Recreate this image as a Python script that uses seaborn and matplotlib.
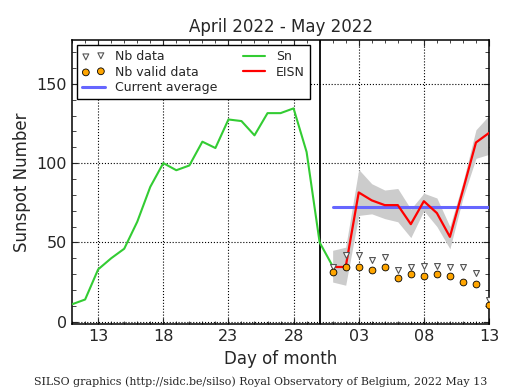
import numpy as np
import pandas as pd
import matplotlib
matplotlib.use("Agg")
import matplotlib.pyplot as plt
import matplotlib.dates as mdates
import seaborn as sns

# ---------------------------------------------------------------
# data
# ---------------------------------------------------------------
sn_dates = pd.date_range("2022-04-11", "2022-05-01", freq="D")
sn_values = [11, 14, 33, 40, 46, 63, 85, 100, 95.5, 98.5, 113.5, 109.5,
             127.5, 126.5, 117.5, 131.5, 131.5, 134.5, 107, 50, 35]

eisn_dates = pd.date_range("2022-05-01", "2022-05-13", freq="D")
eisn_values = [34.5, 34.5, 81.5, 76.5, 73.5, 73.5, 61.5, 76, 68.5, 53.5, 83, 113, 119]
eisn_upper = [45, 47, 96, 87, 83, 84, 71, 81, 78, 60, 88, 121, 130]
eisn_lower = [25, 23, 67, 68, 65, 63, 53, 70, 60, 46, 78, 103, 105.5]

nb_data = [34.5, 42, 42, 39, 41, 32.7, 34.3, 34.9, 34.9, 34.3, 34.3, 30.9, 13.5]
nb_valid = [31.5, 34.3, 34.3, 32.4, 34.3, 27.3, 29.8, 28.6, 30.3, 28.6, 25.2, 23.5, 10.5]

current_average = 72.3

major_days = pd.to_datetime(["2022-04-13", "2022-04-18", "2022-04-23", "2022-04-28",
                             "2022-05-03", "2022-05-08", "2022-05-13"])
today_line = pd.Timestamp("2022-04-30")

# ---------------------------------------------------------------
# style
# ---------------------------------------------------------------
sns.set_style("ticks")
plt.rcParams.update({
    "font.family": ["DejaVu Sans"],
    "xtick.direction": "in",
    "ytick.direction": "in",
    "xtick.top": True,
    "ytick.right": True,
    "xtick.major.size": 4,
    "ytick.major.size": 4.5,
    "xtick.minor.size": 2,
    "ytick.minor.size": 3,
    "axes.linewidth": 1.1,
    "axes.edgecolor": "black",
})

fig = plt.figure(figsize=(5.15, 3.9), dpi=100)
ax = fig.add_axes([0.140, 0.169, 0.8095, 0.728])

df_sn = pd.DataFrame({"date": sn_dates, "Sn": sn_values})
df_ei = pd.DataFrame({"date": eisn_dates, "EISN": eisn_values,
                      "lo": eisn_lower, "hi": eisn_upper,
                      "nb": nb_data, "nbv": nb_valid,
                      "avg": current_average})

ax.fill_between(df_ei["date"], df_ei["lo"], df_ei["hi"], color="#cccccc", lw=0, zorder=1)
ax.axvline(today_line, color="black", lw=1.3, zorder=2)

sns.lineplot(data=df_ei, x="date", y="avg", ax=ax, color="#6666ff", lw=2.2,
             label="Current average", zorder=3)
sns.lineplot(data=df_ei, x="date", y="EISN", ax=ax, color="red", lw=1.6,
             label="EISN", zorder=4)
sns.lineplot(data=df_sn, x="date", y="Sn", ax=ax, color="#33cc33", lw=1.5,
             label="Sn", zorder=4)
sns.scatterplot(data=df_ei, x="date", y="nb", ax=ax, marker="v", s=18,
                color="white", edgecolor="#555555", linewidth=0.8,
                label="Nb data", zorder=5)
sns.scatterplot(data=df_ei, x="date", y="nbv", ax=ax, marker="o", s=24,
                color="orange", edgecolor="black", linewidth=0.6,
                label="Nb valid data", zorder=5)

ax.set_xlim(pd.Timestamp("2022-04-11"), pd.Timestamp("2022-05-13"))
ax.set_ylim(-1.5, 177.5)
ax.set_xticks(major_days)
ax.xaxis.set_major_formatter(mdates.DateFormatter("%d"))
ax.xaxis.set_minor_locator(mdates.DayLocator())
ax.set_yticks([0, 50, 100, 150])
ax.yaxis.set_minor_locator(matplotlib.ticker.MultipleLocator(10))
ax.tick_params(labelsize=11.5)
ax.grid(True, which="major", linestyle=":", color="black", lw=0.8)

ax.set_xlabel("Day of month", fontsize=12)
ax.set_ylabel("Sunspot Number", fontsize=12)
ax.set_title("April 2022 - May 2022", fontsize=12, pad=6)

handles, labels = ax.get_legend_handles_labels()
order = ["Nb data", "Nb valid data", "Current average", "Sn", "EISN"]
hl = dict(zip(labels, handles))
leg = ax.legend([hl[k] for k in order], order, loc="upper left", ncol=2,
                fontsize=9, scatterpoints=2, handlelength=1.8,
                handletextpad=0.85, labelspacing=0.2, borderpad=0.4,
                columnspacing=2.0, fancybox=False, framealpha=1,
                edgecolor="black", borderaxespad=0.4)
leg.get_frame().set_linewidth(1.0)

fig.text(0.507, 0.022, "SILSO graphics (http://sidc.be/silso) Royal Observatory of Belgium, 2022 May 13",
         ha="center", va="center", family="DejaVu Serif", fontsize=7.95)

fig.savefig("out.png", dpi=100)
